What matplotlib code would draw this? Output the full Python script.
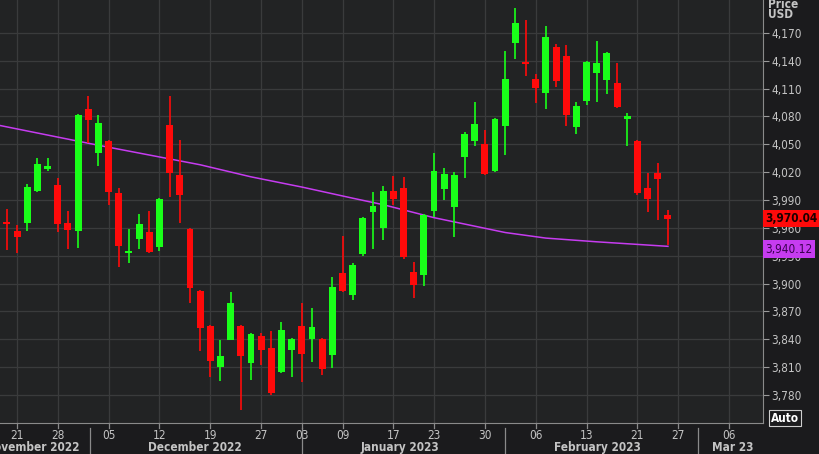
import matplotlib.pyplot as plt
from matplotlib.transforms import blended_transform_factory

# S&P 500 daily candles, 17 Nov 2022 .. 24 Feb 2023 (trading-day index)
opens = [3920, 3966, 3957, 3965, 4000, 4023, 4006, 3965, 3957, 4088,
         4041, 4054, 3998, 3933, 3948, 3956, 3939, 4071, 4017, 3959,
         3892, 3854, 3810, 3839, 3854, 3814, 3844, 3831, 3805, 3828,
         3854, 3840, 3840, 3823, 3911, 3888, 3932, 3977, 3960, 4000,
         4003, 3912, 3909, 3978, 4002, 3983, 4036, 4054, 4050, 4021,
         4070, 4159, 4138, 4120, 4105, 4155, 4145, 4069, 4097, 4127,
         4119, 4116, 4078, 4054, 4003, 4019, 3974]
highs = [3952, 3980, 3963, 4007, 4035, 4035, 4014, 3978, 4083, 4102,
         4082, 4055, 4003, 3959, 3975, 3978, 3992, 4102, 4055, 3960,
         3893, 3855, 3839, 3891, 3855, 3847, 3847, 3849, 3859, 3841,
         3879, 3874, 3841, 3907, 3951, 3922, 3972, 3999, 4005, 4016,
         4015, 3923, 3975, 4041, 4024, 4020, 4063, 4096, 4065, 4078,
         4151, 4197, 4184, 4126, 4178, 4158, 4157, 4096, 4140, 4161,
         4150, 4138, 4084, 4055, 4019, 4030, 3979]
lows = [3915, 3936, 3933, 3957, 3999, 4021, 3956, 3937, 3938, 4051,
        4027, 3985, 3918, 3922, 3937, 3933, 3935, 3993, 3965, 3879,
        3827, 3799, 3795, 3839, 3764, 3796, 3812, 3780, 3804, 3799,
        3794, 3816, 3802, 3809, 3891, 3882, 3930, 3937, 3947, 3985,
        3926, 3885, 3897, 3972, 3990, 3950, 4014, 4048, 4017, 4020,
        4039, 4142, 4124, 4095, 4088, 4112, 4070, 4061, 4092, 4096,
        4104, 4089, 4048, 3995, 3977, 3969, 3942]
closes = [3947, 3964, 3950, 4004, 4029, 4027, 3964, 3958, 4082, 4076,
          4073, 3999, 3941, 3935, 3964, 3934, 3991, 4019, 3995, 3895,
          3852, 3817, 3822, 3879, 3822, 3846, 3828, 3782, 3850, 3840,
          3824, 3853, 3808, 3896, 3892, 3920, 3971, 3984, 4000, 3991,
          3929, 3898, 3974, 4021, 4018, 4017, 4061, 4072, 4018, 4077,
          4120, 4181, 4137, 4111, 4166, 4118, 4082, 4091, 4139, 4138,
          4148, 4090, 4080, 3998, 3991, 4013, 3970.04]

# moving average (sampled)
ma_idx = [0, 10, 20, 25, 30, 35, 38, 43, 50, 54, 59, 66]
ma_val = [4071, 4049, 4028, 4015, 4004, 3992, 3985, 3971, 3955, 3949, 3945, 3940.12]

day_pos = [2, 6, 11, 16, 21, 26, 30, 34, 39, 43, 48, 53, 58, 63, 67, 72]
day_labels = ['21', '28', '05', '12', '19', '27', '03', '09', '17', '23',
              '30', '06', '13', '21', '27', '06']
month_sep = [9.2, 30, 50, 69]
month_pos = [3.5, 19.5, 39.6, 59.1, 72.4]
month_labels = ['November 2022', 'December 2022', 'January 2023',
                'February 2023', 'Mar 23']
yticks = list(range(3780, 4171, 30))

GREEN = '#19ff19'
RED = '#ff0a0a'
MAGENTA = '#c63cf0'
TXT = '#c4c4c4'
FONT = dict(family='DejaVu Sans', stretch='condensed')

fig = plt.figure(figsize=(8.2, 4.54), dpi=100, facecolor='#1b1b1d')
ax = fig.add_axes([0, 31 / 454, 763 / 820, 423 / 454], facecolor='#222324')
ax.set_xlim(0.32, 75.35)
ax.set_ylim(3749.8, 4205.5)

for v in yticks:
    ax.axhline(v, color='#3a3b3c', lw=0.9, zorder=0)
for p in day_pos:
    ax.axvline(p, color='#3a3b3c', lw=0.9, zorder=0)

for i, (o, h, l, c) in enumerate(zip(opens, highs, lows, closes)):
    col = GREEN if c >= o else RED
    ax.vlines(i, l, h, color=col, lw=1.2, zorder=2)
    lo, hi = min(o, c), max(o, c)
    if hi - lo < 2.5:
        mid = (hi + lo) / 2
        lo, hi = mid - 1.3, mid + 1.3
    ax.bar(i, hi - lo, bottom=lo, width=0.68, color=col, lw=0, zorder=3)

ax.plot(ma_idx, ma_val, color=MAGENTA, lw=1.1, zorder=1)

# right axis
ax.yaxis.tick_right()
ax.set_yticks(yticks)
ax.set_yticklabels([f'{v:,}' for v in yticks], color=TXT, fontsize=8.5, **FONT)
ax.tick_params(axis='y', colors='#9a9a9a', length=4, pad=2, labelcolor=TXT)
ax.set_xticks([])
for s in ['top', 'left']:
    ax.spines[s].set_visible(False)
ax.spines['right'].set_color('#8a8a8a')
ax.spines['bottom'].set_color('#8a8a8a')

# bottom date axis
tr = blended_transform_factory(ax.transData, ax.transAxes)
for p, lab in zip(day_pos, day_labels):
    ax.plot([p, p], [0, -0.012], color='#8a8a8a', lw=0.9, transform=tr, clip_on=False)
    ax.text(p, -0.03, lab, transform=tr, ha='center', va='center', color=TXT,
            fontsize=8.5, **FONT)
for p in month_sep:
    ax.plot([p, p], [-0.012, -0.08], color='#8a8a8a', lw=0.9, transform=tr, clip_on=False)
for p, lab in zip(month_pos, month_labels):
    ax.text(p, -0.057, lab, transform=tr, ha='center', va='center', color=TXT,
            fontsize=8.5, fontweight='bold', **FONT)

# right-side labels
fig.text(768 / 820, 1 - 4 / 454, 'Price', color=TXT, fontsize=8.5, fontweight='bold',
         va='center', **FONT)
fig.text(768 / 820, 1 - 15 / 454, 'USD', color=TXT, fontsize=8.5, fontweight='bold',
         va='center', **FONT)
ytr = blended_transform_factory(ax.transAxes, ax.transData)
ax.text(1.003, closes[-1], f'{closes[-1]:,.2f}', transform=ytr,
        ha='left', va='center', fontsize=8.5, fontweight='bold', color='#1a0000', zorder=10,
        bbox=dict(boxstyle='square,pad=0.2', fc=RED, ec='none'), **FONT)
ax.text(1.003, ma_val[-1] - 3, f'{ma_val[-1]:,.2f}', transform=ytr,
        ha='left', va='center', fontsize=8.5, color='#3a0050', zorder=10,
        bbox=dict(boxstyle='square,pad=0.2', fc=MAGENTA, ec='none'), **FONT)
fig.text(785 / 820, 1 - 418 / 454, 'Auto', color='white', fontsize=8.5, fontweight='bold',
         ha='center', va='center', bbox=dict(boxstyle='square,pad=0.15', fc='#1b1b1d', ec='#cfcfcf', lw=0.8),
         **FONT)

fig.savefig('out.png', dpi=100, facecolor=fig.get_facecolor())
